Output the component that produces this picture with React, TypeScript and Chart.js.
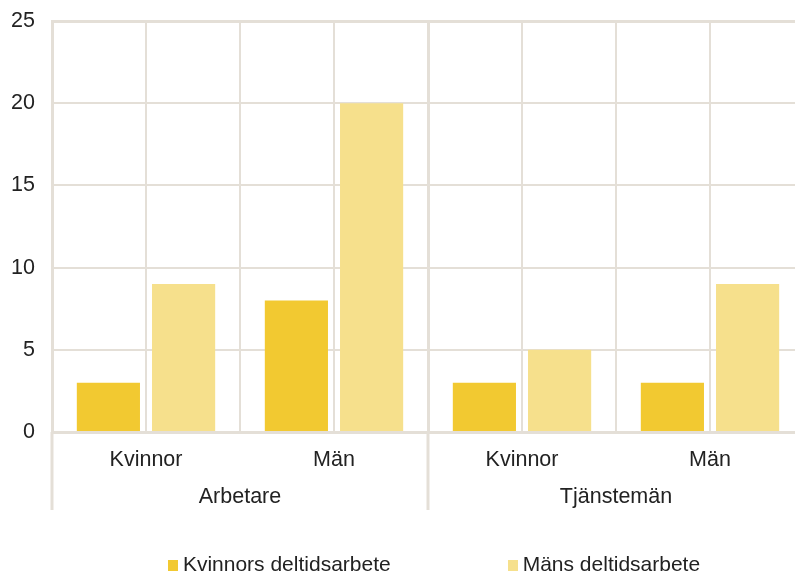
import React, { useEffect, useRef } from "react";
import { Chart, registerables } from "chart.js";

Chart.register(...registerables);

const categories = ["Kvinnor", "Män", "Kvinnor", "Män"];
const groups = ["Arbetare", "Tjänstemän"];
const seriesNames = ["Kvinnors deltidsarbete", "Mäns deltidsarbete"];
const womenPartTime = [3, 8, 3, 3];
const menPartTime = [9, 20, 5, 9];
const yTicks = [0, 5, 10, 15, 20, 25];

const GRID = "#E4DFD7";
const TEXT = "#222222";
const FONT = '"Liberation Sans", Arial, sans-serif';
const FSIZE = 21.5;
const LEGEND_FSIZE = 21;
const COLORS = ["#F2C931", "#F6E08C"];

const centerLines = {
  id: "centerLines",
  beforeDatasetsDraw(chart: any) {
    const { ctx, chartArea } = chart;
    const x = chart.scales.x;
    ctx.save();
    ctx.strokeStyle = GRID;
    ctx.lineWidth = 2;
    for (let i = 0; i < categories.length; i++) {
      const px = Math.round(x.getPixelForValue(i));
      ctx.beginPath();
      ctx.moveTo(px, chartArea.top);
      ctx.lineTo(px, chartArea.bottom);
      ctx.stroke();
    }
    ctx.restore();
  },
};

const groupSeparators = {
  id: "groupSeparators",
  afterDraw(chart: any) {
    const { ctx, chartArea } = chart;
    const x2 = chart.scales.x2;
    ctx.save();
    ctx.strokeStyle = GRID;
    ctx.lineWidth = 3;
    const bounds = [chartArea.left, (chartArea.left + chartArea.right) / 2, chartArea.right];
    for (const b of bounds) {
      const px = Math.round(b);
      ctx.beginPath();
      ctx.moveTo(px, chartArea.bottom);
      ctx.lineTo(px, x2.bottom);
      ctx.stroke();
    }
    ctx.restore();
  },
};

const customLegend = {
  id: "customLegend",
  afterDraw(chart: any) {
    const { ctx, chartArea } = chart;
    ctx.save();
    ctx.font = LEGEND_FSIZE + "px " + FONT;
    ctx.textBaseline = "middle";
    const box = 10;
    const gapText = 5;
    const gapItems = 117;
    const widths = seriesNames.map((n) => box + gapText + ctx.measureText(n).width);
    const total = widths.reduce((a, b) => a + b, 0) + gapItems * (widths.length - 1);
    let xPos = (chartArea.left + chartArea.right) / 2 + 6 - total / 2;
    const yc = chart.height - 9;
    seriesNames.forEach((n, i) => {
      ctx.fillStyle = COLORS[i];
      ctx.fillRect(Math.round(xPos), Math.round(yc - box / 2), box, box + 1);
      ctx.fillStyle = TEXT;
      ctx.fillText(n, xPos + box + gapText, yc);
      xPos += widths[i] + gapItems;
    });
    ctx.restore();
  },
};

export default function App() {
  const ref = useRef<HTMLCanvasElement>(null);
  useEffect(() => {
    if (!ref.current) return;
    Chart.defaults.font.family = FONT;
    const chart = new Chart(ref.current, {
      type: "bar",
      data: {
        labels: categories,
        datasets: [
          {
            label: seriesNames[0],
            data: womenPartTime,
            backgroundColor: COLORS[0],
            categoryPercentage: 0.8,
            barPercentage: 0.84,
          },
          {
            label: seriesNames[1],
            data: menPartTime,
            backgroundColor: COLORS[1],
            categoryPercentage: 0.8,
            barPercentage: 0.84,
          },
        ],
      },
      options: {
        animation: false,
        responsive: false,
        maintainAspectRatio: false,
        layout: { padding: { left: 0, right: 8, top: 21, bottom: 64 } },
        plugins: { legend: { display: false }, tooltip: { enabled: false } },
        scales: {
          y: {
            min: 0,
            max: 25,
            afterBuildTicks: (s: any) => {
              s.ticks = yTicks.map((v) => ({ value: v }));
            },
            ticks: { padding: 17, color: TEXT, font: { size: FSIZE, family: FONT } },
            grid: {
              color: GRID,
              lineWidth: (c: any) => (c.tick && c.tick.value === 25 ? 3 : 2),
              drawTicks: false,
            },
            border: { display: true, width: 3, color: GRID },
            afterFit: (s: any) => {
              s.width = 52;
              s.paddingTop = 0;
              s.paddingBottom = 0;
            },
          },
          x: {
            type: "category",
            offset: true,
            grid: {
              offset: true,
              color: GRID,
              lineWidth: (c: any) => (c.index === 2 ? 3 : 2),
              drawTicks: false,
            },
            border: { display: true, width: 3, color: GRID },
            ticks: { padding: 15, color: TEXT, font: { size: FSIZE, family: FONT }, maxRotation: 0 },
            afterFit: (s: any) => {
              s.height = 48;
              s.paddingLeft = 0;
              s.paddingRight = 0;
            },
          },
          x2: {
            type: "category",
            labels: groups,
            position: "bottom",
            offset: true,
            grid: { display: false, drawTicks: false },
            border: { display: false },
            ticks: { padding: 4, color: TEXT, font: { size: FSIZE, family: FONT }, maxRotation: 0 },
            afterFit: (s: any) => {
              s.height = 30;
              s.paddingLeft = 0;
              s.paddingRight = 0;
            },
          },
        },
      } as any,
      plugins: [centerLines, groupSeparators, customLegend],
    });
    return () => chart.destroy();
  }, []);
  return (
    <div
      style={{
        position: "fixed",
        left: 0,
        top: 0,
        width: 795,
        height: 574,
        overflow: "hidden",
        background: "#fff",
      }}
    >
      <canvas ref={ref} width={812} height={574} style={{ display: "block" }} />
    </div>
  );
}
